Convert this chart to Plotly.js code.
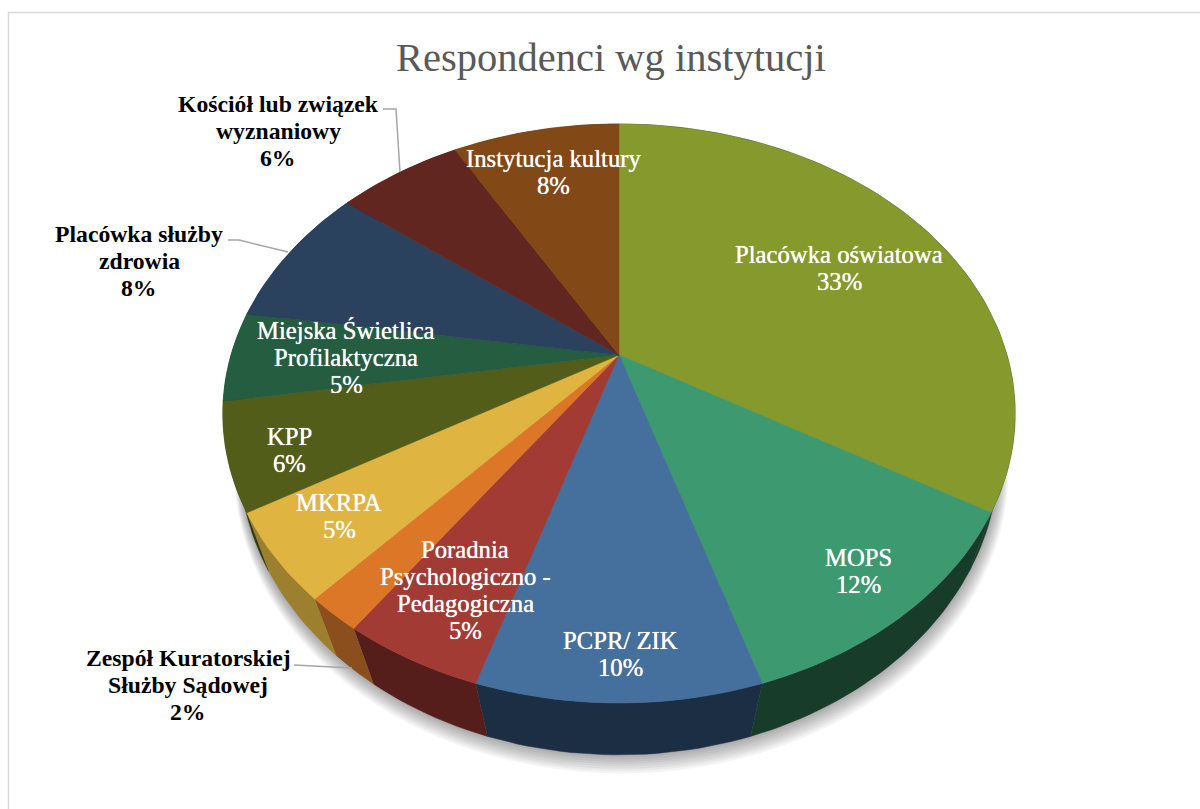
<!DOCTYPE html>
<html><head><meta charset="utf-8">
<script src="https://cdn.plot.ly/plotly-3.0.1.min.js"></script>
<style>html,body{margin:0;padding:0;background:#fff}#c{width:1200px;height:809px}</style>
</head><body><div id="c"></div>
<script>
// --- data ---
const categories = ["Placówka oświatowa","MOPS","PCPR/ ZIK","Poradnia<br>Psychologiczno -<br>Pedagogiczna","Zespół Kuratorskiej<br>Służby Sądowej","MKRPA","KPP","Miejska Świetlica<br>Profilaktyczna","Placówka służby<br>zdrowia","Kościół lub związek<br>wyznaniowy","Instytucja kultury"];
const values = [33,12,10,5,2,5,6,5,8,6,8];
const topColors = ["#85992C","#3D9970","#456F9C","#A23B33","#DB7726","#E0B440","#535D1A","#255D40","#2A425E","#622620","#824816"];
const wallColors = ["#173D2A","#173D2A","#1C2E44","#561E1A","#8A4F1C","#9C8030","#2F3A12","#143324","#17253A","#371512","#4A290C"];
const labelX = [839,858,620,465,188,339,289,346,139,278,553];
const labelY = [268,571,654,590,685,516,450,357,261,131,172];
const labelColor = ["#fff","#fff","#fff","#fff","#000","#fff","#fff","#fff","#000","#000","#fff"];
const titleText = "Respondenci wg instytucji";

// --- perspective pie geometry ---
const topRim = {cx:619, y0:355, A:388, B:277.7, k:0.202, warp:2.1};
const botRim = {cx:619, y0:420, A:377, B:294.7, k:0.12, warp:0};
function pt(r, deg){
  const d0 = deg + r.warp*Math.sin(deg*Math.PI/180);
  const t = d0*Math.PI/180, u = Math.sin(t), v = Math.cos(t), d = 1 + r.k*v;
  return [r.cx + r.A*u/d, r.y0 - r.B*v/d];
}
function arc(r, a, b){
  const n = Math.max(2, Math.ceil(Math.abs(b-a)/1.5)), out = [];
  for(let i=0;i<=n;i++) out.push(pt(r, a+(b-a)*i/n));
  return out;
}
const total = values.reduce((s,v)=>s+v,0);
let acc = 0;
const spans = values.map(v=>{const a=acc/total*360; acc+=v; return [a, acc/total*360];});
const traces = [];
function poly(points, color, name){
  traces.push({type:"scatter",mode:"lines",x:points.map(p=>p[0]),y:points.map(p=>p[1]),
    fill:"toself",fillcolor:color,line:{color:color,width:0.5},name:name,hoverinfo:"name",showlegend:false});
}
// soft shadow under the pie
for(let i=8;i>=1;i--){
  const pts=[]; for(let a=0;a<=360;a+=3){const t=a*Math.PI/180;
    pts.push([619+(380+i*0.9)*Math.sin(t)+i*0.3, 456+i*1.7+(299+i*0.6)*Math.cos(t)]);}
  traces.push({type:"scatter",mode:"lines",x:pts.map(p=>p[0]),y:pts.map(p=>p[1]),fill:"toself",
    fillcolor:"rgba(0,0,0,0.045)",line:{width:0},hoverinfo:"skip",showlegend:false});
}
// side wall
spans.forEach((s,i)=>poly(arc(topRim,s[0],s[1]).concat(arc(botRim,s[1],s[0])), wallColors[i], categories[i].replace(/<br>/g," ")));
// top face
spans.forEach((s,i)=>poly([[topRim.cx,topRim.y0]].concat(arc(topRim,s[0],s[1])).concat([[topRim.cx,topRim.y0]]), topColors[i], categories[i].replace(/<br>/g," ")));

const annotations = [];
const lineStep = 27;
categories.forEach((c,i)=>{
  const lines = c.split("<br>").concat([values[i]+"%"]);
  const dark = labelColor[i]==="#000";
  lines.forEach((ln,j)=>annotations.push({
    x:labelX[i], y:labelY[i]+(j-(lines.length-1)/2)*lineStep, xref:"x", yref:"y", showarrow:false, xanchor:"center", yanchor:"middle",
    text:ln,
    font: dark ? {family:"Liberation Serif, serif",size:23.7,color:"#000",weight:"bold"}
               : {family:"Liberation Serif, serif",size:24.7,color:"#fff",shadow:"0 0 0.7px #fff"}
  }));
});
annotations.push({x:611,y:57,xref:"x",yref:"y",showarrow:false,xanchor:"center",yanchor:"middle",text:titleText,
  font:{family:"Liberation Serif, serif",size:40.5,color:"#595959"}});

const leader = {color:"#A6A6A6",width:1.5};
const layout = {
  width:1200,height:809,margin:{l:0,r:0,t:0,b:0},paper_bgcolor:"#fff",plot_bgcolor:"#fff",showlegend:false,
  xaxis:{range:[0,1200],visible:false,fixedrange:true},
  yaxis:{range:[809,0],visible:false,fixedrange:true},
  annotations:annotations,
  shapes:[
    {type:"path",xref:"x",yref:"y",path:"M1200,12.5 L8.5,12.5 L8.5,809",line:{color:"#D9D9D9",width:1.5}},
    {type:"path",xref:"x",yref:"y",path:"M383,109 L396,109 L400,172",line:leader},
    {type:"path",xref:"x",yref:"y",path:"M228,240 L239,240 L288,252",line:leader},
    {type:"path",xref:"x",yref:"y",path:"M294,665 L352,668",line:leader}
  ]
};
Plotly.newPlot("c",traces,layout,{displayModeBar:false,staticPlot:true});
</script></body></html>
